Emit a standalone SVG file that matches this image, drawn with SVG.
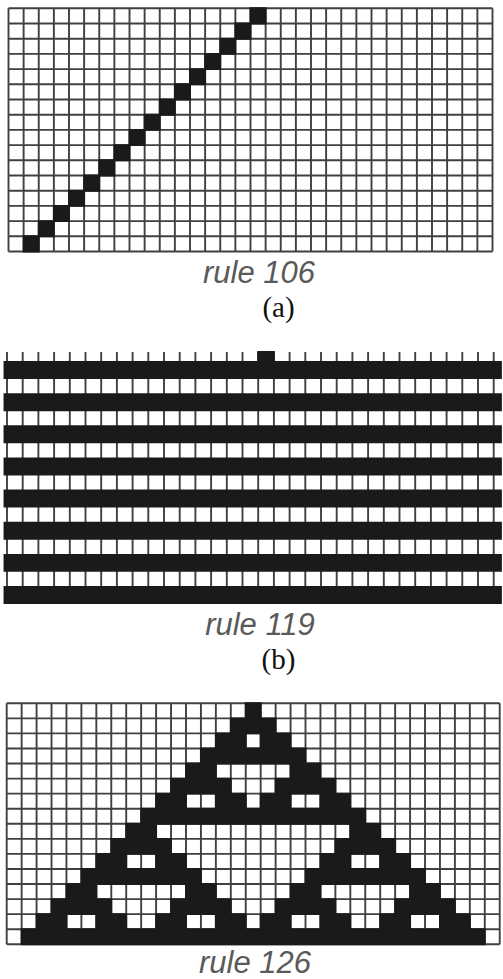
<svg xmlns="http://www.w3.org/2000/svg" width="503" height="979" viewBox="0 0 503 979">
<style>
.grid{fill:none;stroke:#404040;stroke-width:1.9}
.on{fill:#1a1a1a;stroke:#1a1a1a;stroke-width:1.9}
.rule{font-family:"Liberation Sans",Arial,sans-serif;font-style:italic;font-size:31px;fill:#5a5a5a;text-anchor:middle}
.cap{font-family:"Liberation Serif","Times New Roman",serif;font-size:29px;fill:#111;text-anchor:middle}
</style>
<rect width="503" height="979" fill="#fff"/>

<g id="panel-a" transform="translate(8.5,8.3) scale(15.125,15.2)">
<path class="grid" vector-effect="non-scaling-stroke" d="M0 0H32M0 1H32M0 2H32M0 3H32M0 4H32M0 5H32M0 6H32M0 7H32M0 8H32M0 9H32M0 10H32M0 11H32M0 12H32M0 13H32M0 14H32M0 15H32M0 16H32M0 0V16M1 0V16M2 0V16M3 0V16M4 0V16M5 0V16M6 0V16M7 0V16M8 0V16M9 0V16M10 0V16M11 0V16M12 0V16M13 0V16M14 0V16M15 0V16M16 0V16M17 0V16M18 0V16M19 0V16M20 0V16M21 0V16M22 0V16M23 0V16M24 0V16M25 0V16M26 0V16M27 0V16M28 0V16M29 0V16M30 0V16M31 0V16M32 0V16"/>
<path class="on" vector-effect="non-scaling-stroke" d="M16 0h1v1h-1zM15 1h1v1h-1zM14 2h1v1h-1zM13 3h1v1h-1zM12 4h1v1h-1zM11 5h1v1h-1zM10 6h1v1h-1zM9 7h1v1h-1zM8 8h1v1h-1zM7 9h1v1h-1zM6 10h1v1h-1zM5 11h1v1h-1zM4 12h1v1h-1zM3 13h1v1h-1zM2 14h1v1h-1zM1 15h1v1h-1z"/>
</g>
<g id="label-a">
<text class="rule" x="259" y="283">rule 106</text>
<text class="cap" x="278.5" y="317">(a)</text>
</g>

<g id="panel-b" transform="translate(7,362) scale(15.7,16.07)">
<path class="grid" vector-effect="non-scaling-stroke" d="M0 -0.62V15M1 -0.62V15M2 -0.62V15M3 -0.62V15M4 -0.62V15M5 -0.62V15M6 -0.62V15M7 -0.62V15M8 -0.62V15M9 -0.62V15M10 -0.62V15M11 -0.62V15M12 -0.62V15M13 -0.62V15M14 -0.62V15M15 -0.62V15M16 -0.62V15M17 -0.62V15M18 -0.62V15M19 -0.62V15M20 -0.62V15M21 -0.62V15M22 -0.62V15M23 -0.62V15M24 -0.62V15M25 -0.62V15M26 -0.62V15M27 -0.62V15M28 -0.62V15M29 -0.62V15M30 -0.62V15M31 -0.62V15"/>
<path class="on" vector-effect="non-scaling-stroke" d="M16 -0.62h1v0.62h-1zM-0.16 0H31.46V1H-0.16zM-0.16 2H31.46V3H-0.16zM-0.16 4H31.46V5H-0.16zM-0.16 6H31.46V7H-0.16zM-0.16 8H31.46V9H-0.16zM-0.16 10H31.46V11H-0.16zM-0.16 12H31.46V13H-0.16zM-0.16 14H31.46V15H-0.16z"/>
</g>
<g id="label-b">
<text class="rule" x="260" y="635">rule 119</text>
<text class="cap" x="278.5" y="669">(b)</text>
</g>

<g id="panel-c" transform="translate(6.7,703.3) scale(14.94,15.06)">
<path class="grid" vector-effect="non-scaling-stroke" d="M0 0H33M0 1H33M0 2H33M0 3H33M0 4H33M0 5H33M0 6H33M0 7H33M0 8H33M0 9H33M0 10H33M0 11H33M0 12H33M0 13H33M0 14H33M0 15H33M0 16H33M0 0V16M1 0V16M2 0V16M3 0V16M4 0V16M5 0V16M6 0V16M7 0V16M8 0V16M9 0V16M10 0V16M11 0V16M12 0V16M13 0V16M14 0V16M15 0V16M16 0V16M17 0V16M18 0V16M19 0V16M20 0V16M21 0V16M22 0V16M23 0V16M24 0V16M25 0V16M26 0V16M27 0V16M28 0V16M29 0V16M30 0V16M31 0V16M32 0V16M33 0V16"/>
<path class="on" vector-effect="non-scaling-stroke" d="M16 0h1v1h-1zM15 1h3v1h-3zM14 2h2v1h-2zM17 2h2v1h-2zM13 3h7v1h-7zM12 4h2v1h-2zM19 4h2v1h-2zM11 5h4v1h-4zM18 5h4v1h-4zM10 6h2v1h-2zM14 6h2v1h-2zM17 6h2v1h-2zM21 6h2v1h-2zM9 7h15v1h-15zM8 8h2v1h-2zM23 8h2v1h-2zM7 9h4v1h-4zM22 9h4v1h-4zM6 10h2v1h-2zM10 10h2v1h-2zM21 10h2v1h-2zM25 10h2v1h-2zM5 11h8v1h-8zM20 11h8v1h-8zM4 12h2v1h-2zM12 12h2v1h-2zM19 12h2v1h-2zM27 12h2v1h-2zM3 13h4v1h-4zM11 13h4v1h-4zM18 13h4v1h-4zM26 13h4v1h-4zM2 14h2v1h-2zM6 14h2v1h-2zM10 14h2v1h-2zM14 14h2v1h-2zM17 14h2v1h-2zM21 14h2v1h-2zM25 14h2v1h-2zM29 14h2v1h-2zM1 15h31v1h-31z"/>
</g>
<g id="label-c">
<text class="rule" x="255" y="973">rule 126</text>
</g>
</svg>
